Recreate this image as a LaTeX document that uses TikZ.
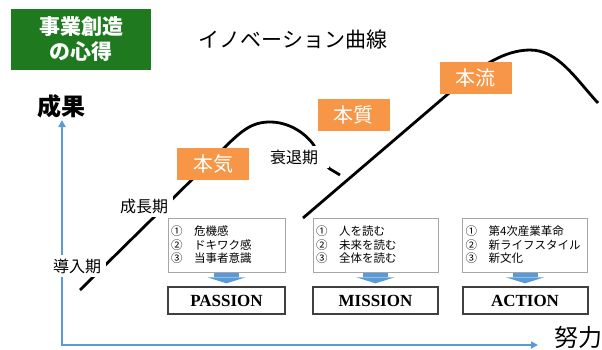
\documentclass[tikz,border=0pt]{standalone}
\usepackage{fontspec}
\newfontfamily\jp{Noto Sans CJK JP}
\newfontfamily\seriflatin{Liberation Serif}
\usetikzlibrary{arrows.meta, positioning}
\definecolor{axisblue}{RGB}{91,155,213}
\definecolor{boxgreen}{RGB}{31,122,31}
\definecolor{boxorange}{RGB}{247,150,70}
\definecolor{framegray}{RGB}{64,64,64}

\begin{document}
\begin{tikzpicture}[x=1pt,y=-1pt,node distance=14pt,
		curve/.style={line width=2.8pt},
		axis/.style={draw=axisblue,line width=2pt},
		headline/.style={fill=boxgreen,text=white,minimum width=140pt,minimum height=61pt,align=center,font=\jp\bfseries\fontsize{21}{25}\selectfont},
		phase/.style={fill=white,inner xsep=5pt,inner ysep=4pt,font=\jp\fontsize{16}{16}\selectfont},
		stage/.style={fill=boxorange,text=white,minimum width=72pt,minimum height=32pt,inner sep=0pt,font=\jp\fontsize{20}{20}\selectfont},
		items/.style={draw=gray!70,fill=white,line width=0.7pt,minimum height=54pt,text width=119pt,inner xsep=3pt,align=left,font=\jp\fontsize{11.5}{13.5}\selectfont},
		goal/.style={draw=framegray,fill=white,line width=2pt,minimum width=125pt,minimum height=27pt,inner sep=0pt,font=\seriflatin\bfseries\fontsize{17}{17}\selectfont},
		blockarrow/.style={draw=axisblue,line width=25pt,shorten <=1pt,shorten >=3pt,-{Triangle[width=38pt,length=6pt,line width=0pt,color=axisblue,fill=axisblue]}}]
		\useasboundingbox (0,0) rectangle (602,349);

		\node[headline]                 (title)   at (81,39.5)  {事業創造\\の心得};
		\node[font=\jp\fontsize{21}{21}\selectfont] (heading) at (293,40) {イノベーション曲線};

		\coordinate (ytip)   at (62,120);
		\coordinate (origin) at (62,345);
		\coordinate (xtip)   at (538,345);
		\draw[axis,{Triangle[width=7pt,length=7pt]}-{Triangle[width=7pt,length=7pt]}] (ytip) -- (origin) -- (xtip);
		\node[font=\jp\bfseries\fontsize{24}{24}\selectfont] (yname) at (61,106)  {成果};
		\node[font=\jp\fontsize{24}{24}\selectfont]          (xname) at (578,337) {努力};

		\draw[curve] (80,290) -- (222,150) .. controls (242,130) and (252,122) .. (270,122) .. controls (288,122) and (304,132) .. (313,144) .. controls (319,153) and (322,163) .. (330,169) -- (340,175);
		\draw[curve] (303,218) -- (455,88) .. controls (480,66) and (505,50) .. (530,50) .. controls (558,50) and (575,78) .. (598,103);

		\node[phase]                 (intro)   at (77,266)  {導入期};
		\node[phase]                 (growth)  at (144,206) {成長期};
		\node[phase,inner xsep=11pt] (decline) at (294,157) {衰退期};

		\node[stage] (honki)     at (213,163.5) {本気};
		\node[stage] (honshitsu) at (353.5,115) {本質};
		\node[stage] (honryu)    at (475.5,77.5) {本流};

		\node[items,text width=111pt] (passitems) at (226.5,245) {①\quad 危機感\\②\quad ドキワク感\\③\quad 当事者意識};
		\node[goal,minimum width=117pt] (passion) [below=of passitems] {PASSION};
		\node[items]                  (missitems) at (375.5,245) {①\quad 人を読む\\②\quad 未来を読む\\③\quad 全体を読む};
		\node[goal]                   (mission) [below=of missitems] {MISSION};
		\node[items]                  (actitems)  at (525,245)   {①\quad 第4次産業革命\\②\quad 新ライフスタイル\\③\quad 新文化};
		\node[goal]                   (action)  [below=of actitems] {ACTION};

		\path[blockarrow] (passitems) edge (passion);
		\path[blockarrow] (missitems) edge (mission);
		\path[blockarrow] (actitems)  edge (action);
	\end{tikzpicture}
\end{document}
